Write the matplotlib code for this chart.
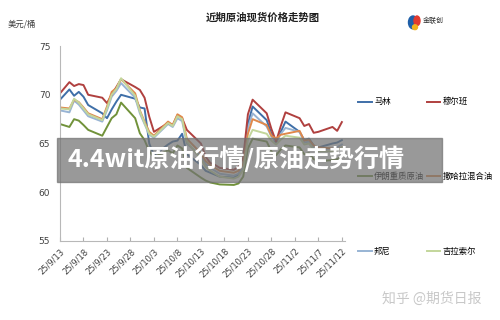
import matplotlib.pyplot as plt
import matplotlib.patches as mpatches
import pandas as pd

plt.rcParams['font.family'] = ['Noto Sans CJK SC', 'DejaVu Sans']

dates = ["2025-09-13", "2025-09-15", "2025-09-16", "2025-09-17", "2025-09-18",
         "2025-09-19", "2025-09-22", "2025-09-23", "2025-09-24", "2025-09-25",
         "2025-09-26", "2025-09-29", "2025-09-30", "2025-10-01", "2025-10-02",
         "2025-10-03", "2025-10-06", "2025-10-07", "2025-10-08", "2025-10-09",
         "2025-10-10", "2025-10-13", "2025-10-14", "2025-10-15", "2025-10-16",
         "2025-10-17", "2025-10-20", "2025-10-21", "2025-10-22", "2025-10-23",
         "2025-10-24", "2025-10-27", "2025-10-28", "2025-10-29", "2025-10-30",
         "2025-10-31", "2025-11-03", "2025-11-04", "2025-11-05", "2025-11-06",
         "2025-11-07", "2025-11-10", "2025-11-11", "2025-11-12"]

malin = [69.5, 70.55, 69.9, 70.3, 69.8, 68.95, 68.1, 67.6, 68.5, 69.3,
         70.0, 69.6, 68.7, 68.6, 65.0, 63.8, 64.9, 65.2, 65.3, 66.0,
         63.9, 62.8, 62.2, 62.0, 61.8, 61.6, 61.5, 61.8, 62.6, 67.0,
         68.8, 67.4, 66.0, 65.0, 66.2, 67.25, 66.2, 65.35, 65.5, 64.8,
         64.6, 65.0, 65.1, 65.35]
murban = [70.15, 71.3, 70.9, 71.1, 71.0, 70.0, 69.7, 69.15, 70.0, 70.8,
          71.6, 70.8, 70.5, 69.7, 67.75, 66.2, 67.1, 66.9, 67.9, 67.6,
          66.4, 65.0, 63.65, 63.0, 62.8, 62.5, 62.3, 62.6, 63.5, 68.0,
          69.5, 68.1, 66.5, 65.2, 66.8, 68.2, 67.6, 66.8, 67.0, 66.1,
          66.2, 66.7, 66.3, 67.2]
iran_heavy = [67.0, 66.7, 67.5, 67.35, 66.9, 66.4, 65.8, 66.7, 67.6, 68.0,
              69.2, 67.6, 66.05, 65.35, 64.2, 63.6, 64.3, 64.0, 64.8, 64.5,
              62.5, 61.5, 61.2, 61.0, 60.9, 60.8, 60.75, 60.9, 61.6, 64.5,
              65.5, 65.2, 64.2, 63.8, 64.4, 64.8, 64.6, 63.9, 64.0, 63.4,
              63.2, 63.3, 63.4, 63.7]
sahara = [68.7, 68.6, 69.5, 69.25, 68.7, 68.1, 67.5, 68.8, 70.3, 70.7,
          71.6, 70.15, 68.4, 67.25, 66.2, 65.8, 67.25, 66.9, 68.0, 67.7,
          65.5, 64.0, 63.2, 62.8, 62.5, 62.2, 62.0, 62.2, 62.9, 66.0,
          67.5, 66.9, 65.8, 65.5, 65.9, 66.0, 66.3, 65.3, 65.4, 64.8,
          64.6, 64.5, 64.4, 64.6]
bonny = [68.4, 68.2, 69.4, 69.0, 68.4, 67.8, 67.25, 68.4, 69.8, 70.4,
         71.2, 69.7, 68.1, 67.0, 65.9, 65.6, 67.0, 66.7, 67.6, 67.3,
         65.0, 63.7, 62.9, 62.5, 62.2, 61.9, 61.7, 61.9, 62.6, 66.6,
         68.1, 66.75, 65.7, 65.2, 66.0, 66.6, 66.2, 65.1, 65.2, 64.6,
         64.4, 64.5, 64.6, 64.9]
girassol = [68.6, 68.5, 69.6, 69.2, 68.6, 68.0, 67.4, 68.6, 70.0, 70.6,
            71.7, 69.9, 68.3, 67.1, 66.0, 65.7, 67.1, 66.8, 67.8, 67.5,
            65.2, 63.4, 62.6, 62.2, 61.9, 61.6, 61.4, 61.6, 62.3, 65.4,
            66.4, 66.0, 65.3, 64.9, 65.4, 65.8, 65.6, 64.9, 65.0, 64.4,
            64.2, 64.2, 64.3, 64.6]

x = pd.to_datetime(dates)

fig = plt.figure(figsize=(5, 3.2), dpi=100)
ax = fig.add_axes([0.12, 0.247, 0.57, 0.609])

# legend fills column by column, so this order gives the reference's rows
series = [
    ("马林", malin, "#3f6fa8"),
    ("伊朗重质原油", iran_heavy, "#71923a"),
    ("邦尼", bonny, "#98b4d4"),
    ("穆尔班", murban, "#b0403f"),
    ("撒哈拉混合油", sahara, "#e0884a"),
    ("吉拉索尔", girassol, "#c3d69b"),
]
for name, vals, col in series:
    ax.plot(x, vals, color=col, lw=1.4, label=name)

ax.set_ylim(55, 75)
ax.set_yticks([55, 60, 65, 70, 75])
ax.set_xlim(pd.Timestamp("2025-09-13"), pd.Timestamp("2025-11-12 16:00"))
ticks = pd.date_range("2025-09-13", "2025-11-12", freq="5D")
ax.set_xticks(ticks)
ax.set_xticklabels([f"{d.year % 100}/{d.month}/{d.day}" for d in ticks],
                   rotation=45, ha="right", rotation_mode="anchor",
                   fontsize=6, color="#404040", family="DejaVu Sans")
ax.tick_params(axis="x", direction="in", length=3, color="#b0b0b0", pad=4)
ax.tick_params(axis="y", length=0, labelsize=6.5, labelcolor="#404040", pad=7)
for lab in ax.get_yticklabels():
    lab.set_family("DejaVu Sans")
for s in ["top", "right"]:
    ax.spines[s].set_visible(False)
for s in ["left", "bottom"]:
    ax.spines[s].set_color("#b8b8b8")
    ax.spines[s].set_linewidth(0.8)

ax.legend(loc="upper left", bbox_to_anchor=(1.02, 0.775), ncol=2,
          frameon=False, fontsize=6, labelspacing=7.9, handlelength=1.6,
          handletextpad=0.3, columnspacing=0.3)

fig.text(0.525, 0.945, "近期原油现货价格走势图", ha="center", va="center",
         fontsize=7.5, fontweight="bold", color="#202020")
fig.text(0.016, 0.925, "美元/桶", ha="left", va="center", fontsize=6,
         color="#404040")

# logo
fig.patches.append(mpatches.Ellipse((0.826, 0.93), 0.018, 0.04, color="#1f5fa8",
                                    transform=fig.transFigure))
fig.patches.append(mpatches.Ellipse((0.834, 0.935), 0.012, 0.03, color="#e23a2e",
                                    transform=fig.transFigure))
fig.patches.append(mpatches.Ellipse((0.83, 0.915), 0.01, 0.015, color="#f2b21c",
                                    transform=fig.transFigure))
fig.text(0.846, 0.935, "金联创", ha="left", va="center", fontsize=5,
         color="#303030")

# overlay banner
fig.patches.append(mpatches.Rectangle((0.114, 0.431), 0.77, 0.138,
                                      color="#727272", alpha=0.72,
                                      transform=fig.transFigure, zorder=10))
fig.text(0.134, 0.505, "4.4wit原油行情/原油走势行情", ha="left", va="center",
         fontsize=18, fontweight="bold", color="white", zorder=11)

fig.text(0.765, 0.065, "知乎 @期货日报", ha="left", va="center",
         fontsize=10, color="#c8c8c8")

fig.savefig("out.png")
